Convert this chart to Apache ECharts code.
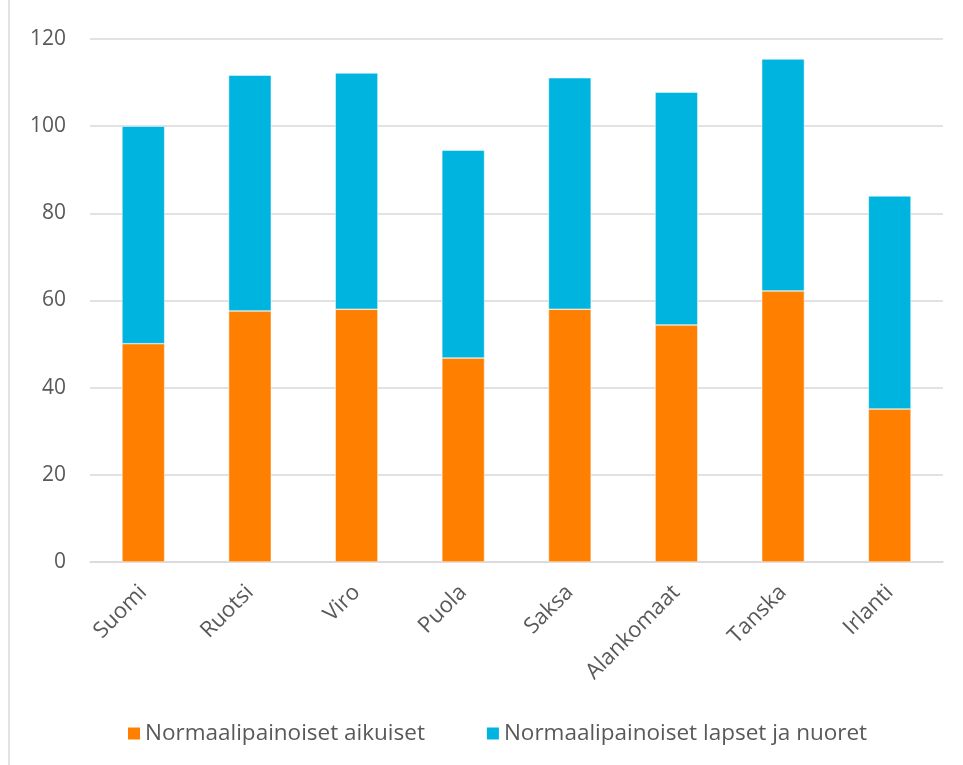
<!DOCTYPE html>
<html>
<head>
<meta charset="utf-8">
<script src="https://cdn.jsdelivr.net/npm/echarts@6/dist/echarts.min.js"></script>
<style>
  html, body { margin: 0; padding: 0; background: #fff; }
  #chart { width: 963px; height: 765px; }
</style>
</head>
<body>
<div id="chart"></div>
<script>
var maat = ['Suomi', 'Ruotsi', 'Viro', 'Puola', 'Saksa', 'Alankomaat', 'Tanska', 'Irlanti'];
var aikuiset = [50.1, 57.6, 58.0, 46.8, 58.0, 54.4, 62.2, 35.1];
var lapset = [49.9, 54.1, 54.2, 47.7, 53.1, 53.4, 53.2, 48.9];
var yTicks = [0, 20, 40, 60, 80, 100, 120];

var fontFam = '"Open Sans", "Noto Sans", sans-serif';
var textColor = '#595959';

var myChart = echarts.init(document.getElementById('chart'));
var option = {
    backgroundColor: '#fff',
    animation: false,
    graphic: [{
        type: 'rect',
        shape: { x: 9, y: -5, width: 1000, height: 1000 },
        style: { fill: 'none', stroke: '#d9d9d9', lineWidth: 1.5 },
        silent: true
    }],
    grid: { left: 90, right: 20, top: 39, bottom: 203 },
    legend: {
        bottom: 15,
        left: 121,
        itemWidth: 14,
        itemHeight: 14,
        itemGap: 60,
        icon: 'rect',
        textStyle: { fontFamily: fontFam, fontSize: 22.5, color: textColor, padding: [0, 0, 0, -1] },
        data: ['Normaalipainoiset aikuiset', 'Normaalipainoiset lapset ja nuoret']
    },
    xAxis: {
        type: 'category',
        data: maat,
        axisLine: { lineStyle: { color: '#d9d9d9', width: 1.5 } },
        axisTick: { show: false },
        axisLabel: {
            rotate: 45,
            margin: 27,
            fontFamily: fontFam,
            fontSize: 22,
            color: textColor
        }
    },
    yAxis: {
        type: 'value',
        min: yTicks[0],
        max: yTicks[yTicks.length - 1],
        interval: 20,
        axisLine: { show: false },
        axisTick: { show: false },
        axisLabel: { margin: 24, fontFamily: fontFam, fontSize: 21, color: textColor },
        splitLine: { lineStyle: { color: '#d9d9d9', width: 1.5 } }
    },
    series: [{
        name: 'Normaalipainoiset aikuiset',
        type: 'bar',
        stack: 'yht',
        barWidth: '40%',
        itemStyle: { color: '#FF8000', borderColor: '#fff', borderWidth: 0.5 },
        data: aikuiset
    }, {
        name: 'Normaalipainoiset lapset ja nuoret',
        type: 'bar',
        stack: 'yht',
        barWidth: '40%',
        itemStyle: { color: '#00B4E0', borderColor: '#fff', borderWidth: 0.5 },
        data: lapset
    }]
};
myChart.setOption(option);
</script>
</body>
</html>
